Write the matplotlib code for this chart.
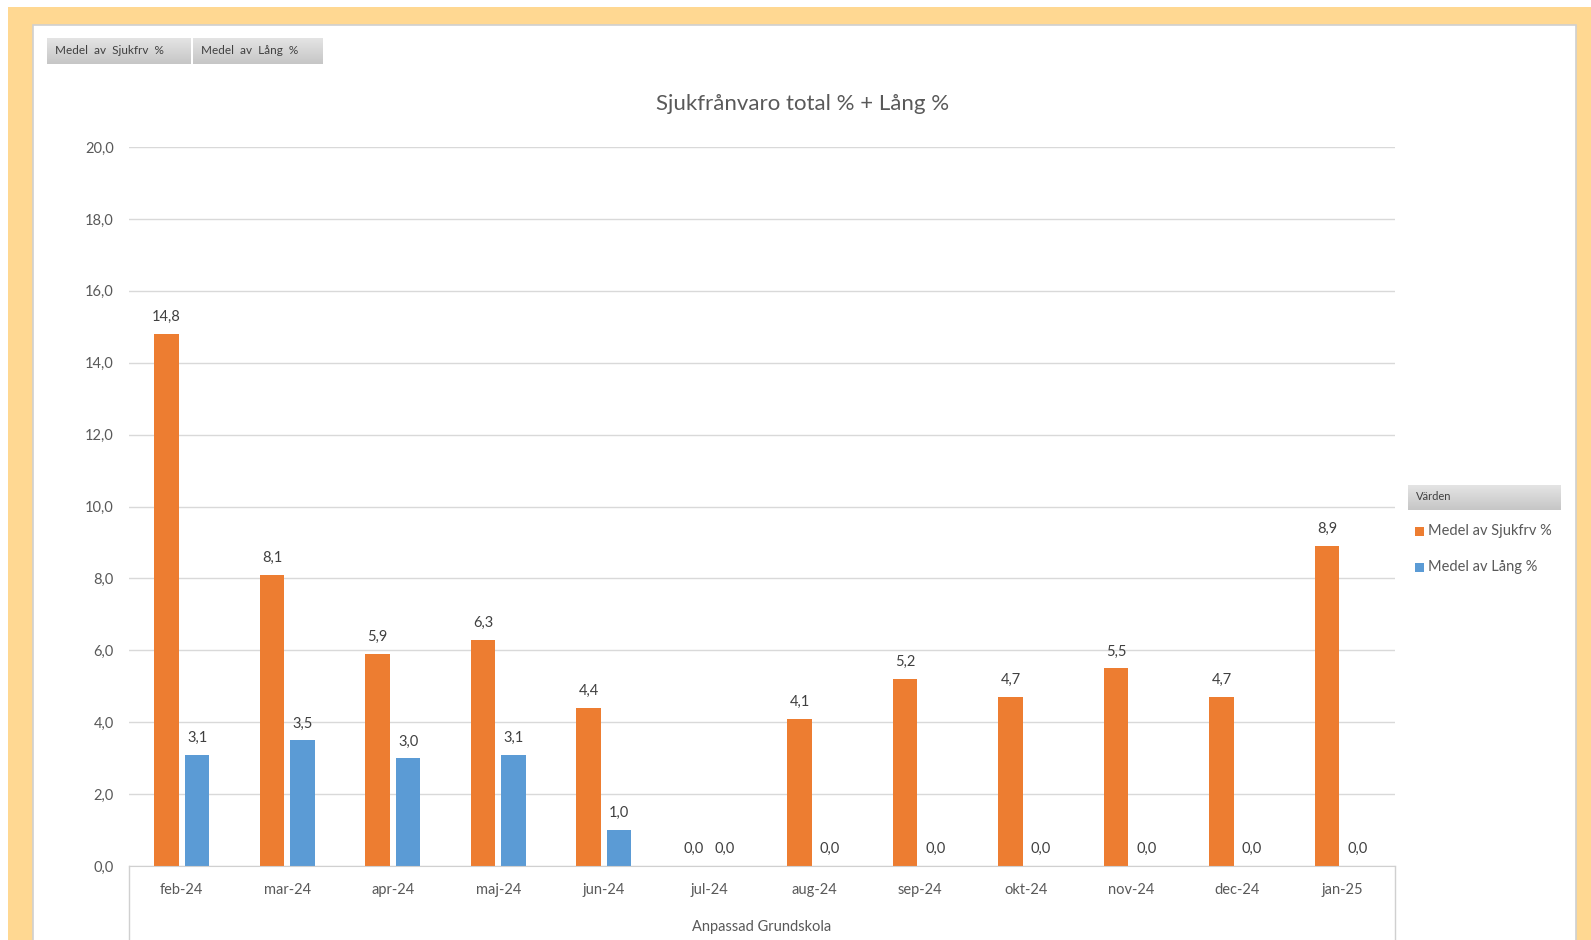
import matplotlib
matplotlib.use("Agg")
import matplotlib.pyplot as plt
from matplotlib.patches import Rectangle
import numpy as np

categories = ["feb-24", "mar-24", "apr-24", "maj-24", "jun-24", "jul-24",
              "aug-24", "sep-24", "okt-24", "nov-24", "dec-24", "jan-25"]
sjukfrv = [14.8, 8.1, 5.9, 6.3, 4.4, 0.0, 4.1, 5.2, 4.7, 5.5, 4.7, 8.9]
lang = [3.1, 3.5, 3.0, 3.1, 1.0, 0.0, 0.0, 0.0, 0.0, 0.0, 0.0, 0.0]
series_names = ["Medel av Sjukfrv %", "Medel av Lång %"]
title = "Sjukfrånvaro total % + Lång %"
axis_title = "Anpassad Grundskola"
yticks = [0, 2, 4, 6, 8, 10, 12, 14, 16, 18, 20]

plt.rcParams['font.family'] = ['Lato', 'DejaVu Sans']
ORANGE = "#ED7D31"
BLUE = "#5B9BD5"
TXT = "#595959"
W, H = 1591, 940

fig = plt.figure(figsize=(W / 100, H / 100), dpi=100)
fig.patch.set_facecolor("white")

def fx(x):
    return x / W

def fy(y):
    return 1 - y / H

# frame
fig.patches.append(Rectangle((fx(8), 0), fx(W - 8), fy(7), transform=fig.transFigure,
                             facecolor="#FFD892", edgecolor="none", zorder=-10))
fig.patches.append(Rectangle((fx(33), -0.01), fx(1576 - 33), fy(25) + 0.01, transform=fig.transFigure,
                             facecolor="white", edgecolor="#D0D0D0", linewidth=1.2, zorder=-9))

def gray_box(x0, x1, y0, y1):
    grad = np.linspace(0, 1, 32).reshape(-1, 1)
    axb = fig.add_axes([fx(x0), fy(y1), fx(x1 - x0), fy(y0) - fy(y1)], zorder=-4)
    axb.imshow(grad, cmap=matplotlib.colors.LinearSegmentedColormap.from_list(
        "g", ["#E4E4E4", "#C6C6C6"]), aspect="auto", extent=(0, 1, 0, 1))
    axb.set_axis_off()

# field buttons
for (x0, x1, lab) in [(47, 191, "Medel  av  Sjukfrv  %"), (193, 323, "Medel  av  Lång  %")]:
    gray_box(x0, x1, 38, 64)
    fig.text(fx(x0 + 8), fy(50), lab, fontsize=8.5, color="#404040", va="center", ha="left")

ax = fig.add_axes([fx(129), fy(866), fx(1395 - 129), fy(147) - fy(866)])
ax.set_zorder(5)
ax.patch.set_alpha(0)
x = np.arange(len(categories))
bw = 0.235
off = 0.145
b1 = ax.bar(x - off, sjukfrv, width=bw, color=ORANGE, zorder=3, label=series_names[0])
b2 = ax.bar(x + off, lang, width=bw, color=BLUE, zorder=3, label=series_names[1])
fmt = lambda v: f"{v:.1f}".replace(".", ",")
for bars, vals in [(b1, sjukfrv), (b2, lang)]:
    for r, v in zip(bars, vals):
        ax.annotate(fmt(v), (r.get_x() + r.get_width() / 2, v), xytext=(0, 7),
                    textcoords="offset points", ha="center", va="bottom",
                    fontsize=10.5, color="#404040")

ax.set_xlim(-0.5, len(categories) - 0.5)
ax.set_ylim(0, 20)
ax.set_yticks(yticks)
ax.set_yticklabels([fmt(v) for v in yticks], fontsize=10.5, color=TXT)
ax.set_xticks(x)
ax.set_xticklabels(categories, fontsize=10.5, color=TXT)
ax.tick_params(axis="both", length=0)
ax.tick_params(axis="y", pad=11)
ax.tick_params(axis="x", pad=12)
ax.grid(axis="y", color="#D9D9D9", linewidth=1, zorder=0)
for s in ["top", "right", "left"]:
    ax.spines[s].set_visible(False)
ax.spines["bottom"].set_color("#D0D0D0")
ax.spines["bottom"].set_zorder(4)
# category box verticals
for xa in [0, 1]:
    ax.plot([xa, xa], [0, -0.12], transform=ax.transAxes, color="#D0D0D0",
            linewidth=1, clip_on=False)
fig.text(fx(762), fy(927), axis_title, fontsize=10.5, color=TXT,
         ha="center", va="center")
fig.text(fx(803), fy(104), title, fontsize=16, color=TXT, ha="center", va="center")

# legend
gray_box(1408, 1561, 485, 510)
fig.text(fx(1416), fy(497), "Värden", fontsize=8, color="#404040", va="center", ha="left")
for yy, col, name in [(531, ORANGE, series_names[0]), (567, BLUE, series_names[1])]:
    fig.patches.append(Rectangle((fx(1415), fy(536) + (fy(yy) - fy(531))), fx(9), fy(527) - fy(536),
                                 transform=fig.transFigure, facecolor=col, edgecolor="none"))
    fig.text(fx(1428), fy(yy), name, fontsize=10.5, color=TXT, va="center", ha="left")

fig.savefig("out.png", dpi=100, facecolor="white")
